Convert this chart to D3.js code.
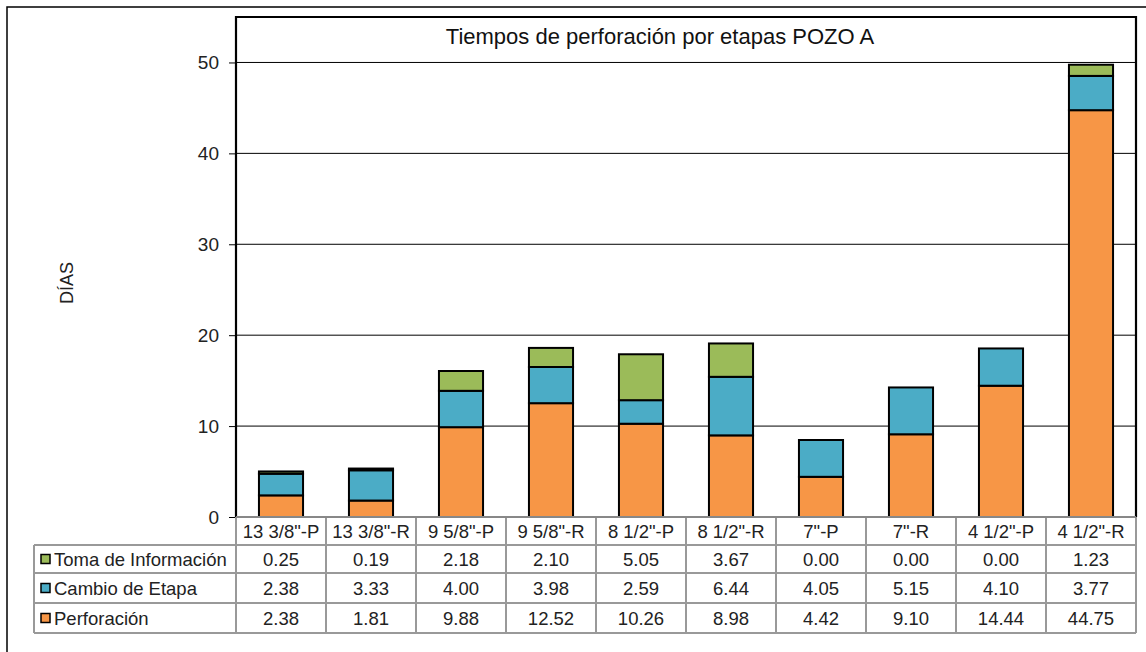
<!DOCTYPE html>
<html><head><meta charset="utf-8">
<script src="https://cdn.jsdelivr.net/npm/d3@7"></script>
<style>body{margin:0;background:#fff;font-family:"Liberation Sans",Arial,sans-serif;}</style>
</head><body><svg id="c" width="1146" height="652"></svg>
<script>
const categories = ['13 3/8"-P','13 3/8"-R','9 5/8"-P','9 5/8"-R','8 1/2"-P','8 1/2"-R','7"-P','7"-R','4 1/2"-P','4 1/2"-R'];
const perforacion = [2.38,1.81,9.88,12.52,10.26,8.98,4.42,9.10,14.44,44.75];
const cambioEtapa = [2.38,3.33,4.00,3.98,2.59,6.44,4.05,5.15,4.10,3.77];
const tomaInfo = [0.25,0.19,2.18,2.10,5.05,3.67,0.00,0.00,0.00,1.23];
const seriesNames = ["Perforación","Cambio de Etapa","Toma de Información"];
const seriesColors = ["#F79646","#4BACC6","#9BBB59"];
const yTicks = [0,10,20,30,40,50];
const title = "Tiempos de perforación por etapas POZO A";
const yLabel = "DÍAS";

const svg = d3.select("#c");
const L=236, R=1136, T=17, B=517;
// outer border
svg.append("rect").attr("x",7).attr("y",7).attr("width",1160).attr("height",670).attr("fill","none").attr("stroke","#000").attr("stroke-width",1.5);

const x = d3.scaleBand().domain(categories).range([L,R]).paddingInner(0.51).paddingOuter(0.255);
const y = d3.scaleLinear().domain([0,55]).range([B,T]);

// gridlines
svg.append("g").selectAll("line").data(yTicks.slice(1)).join("line")
  .attr("x1",L).attr("x2",R).attr("y1",d=>y(d)).attr("y2",d=>y(d)).attr("stroke","#000").attr("stroke-width",1);

// stacked bars
const rows = categories.map((c,i)=>({c, p:perforacion[i], ce:cambioEtapa[i], t:tomaInfo[i]}));
const stack = d3.stack().keys(["p","ce","t"])(rows);
stack.forEach((s,si)=>{
  svg.append("g").selectAll("rect").data(s.filter(d=>d[1]-d[0]>0)).join("rect")
    .attr("x",d=>x(d.data.c)).attr("width",x.bandwidth())
    .attr("y",d=>y(d[1])).attr("height",d=>y(d[0])-y(d[1]))
    .attr("fill",seriesColors[si]).attr("stroke","#000").attr("stroke-width",2);
});

// plot border
svg.append("path").attr("d",`M${L},${B}V${T}H${R}V${B}`).attr("fill","none").attr("stroke","#000").attr("stroke-width",2.2);

// y axis
const yAxis = d3.axisLeft(y).tickValues(yTicks).tickSize(7).tickPadding(10).tickFormat(d3.format("d"));
const ga = svg.append("g").attr("transform",`translate(${L},0)`).call(yAxis);
ga.select(".domain").remove();
ga.selectAll(".tick line").attr("stroke","#000").attr("stroke-width",1);
ga.selectAll("text").attr("font-size",19).attr("font-family","Liberation Sans, Arial").attr("fill","#222").attr("dy","0.32em");

// title
svg.append("text").attr("x",660).attr("y",44).attr("text-anchor","middle").attr("font-size",22).attr("fill","#111").text(title);
// y label
svg.append("text").attr("transform","translate(73,283) rotate(-90)").attr("text-anchor","middle").attr("font-size",18).attr("fill","#222").text(yLabel);

// data table
const gray="#999";
const rowTop=[517,545,573,603,633];
const fs=18.5;
const tbl = svg.append("g");
// category label row
tbl.selectAll("text.cat").data(categories).join("text").attr("class","cat")
  .attr("x",d=>x(d)+x.bandwidth()/2).attr("y",538).attr("text-anchor","middle").attr("font-size",fs).attr("fill","#222").text(d=>d);
const tableSeries = [tomaInfo,cambioEtapa,perforacion];
const tableNames = [seriesNames[2],seriesNames[1],seriesNames[0]];
const tableColors = [seriesColors[2],seriesColors[1],seriesColors[0]];
tableSeries.forEach((arr,ri)=>{
  const yc=(rowTop[ri+1]+rowTop[ri+2])/2;
  tbl.selectAll("text.v"+ri).data(arr).join("text")
    .attr("x",(d,i)=>x(categories[i])+x.bandwidth()/2).attr("y",yc+7).attr("text-anchor","middle")
    .attr("font-size",fs).attr("fill","#222").text(d=>d3.format(".2f")(d));
  tbl.append("rect").attr("x",41).attr("y",yc-4.5).attr("width",9).attr("height",9).attr("fill",tableColors[ri]).attr("stroke","#000").attr("stroke-width",1.5);
  tbl.append("text").attr("x",54).attr("y",yc+7).attr("font-size",fs).attr("fill","#222").text(tableNames[ri]);
});
// grid lines of table
const colX = categories.map(c=>x(c)-x.step()*x.paddingInner()/2).concat([R]);
colX.forEach(cx=>tbl.append("line").attr("x1",cx).attr("x2",cx).attr("y1",B).attr("y2",633).attr("stroke",gray).attr("stroke-width",2));
tbl.append("line").attr("x1",34).attr("x2",34).attr("y1",545).attr("y2",633).attr("stroke",gray).attr("stroke-width",2);
tbl.append("line").attr("x1",L).attr("x2",R).attr("y1",B).attr("y2",B).attr("stroke",gray).attr("stroke-width",2);
[545,573,603,633].forEach(yy=>tbl.append("line").attr("x1",34).attr("x2",R).attr("y1",yy).attr("y2",yy).attr("stroke",gray).attr("stroke-width",2));
svg.append("line").attr("x1",L).attr("x2",R).attr("y1",B).attr("y2",B).attr("stroke","#777").attr("stroke-width",1);
</script></body></html>
